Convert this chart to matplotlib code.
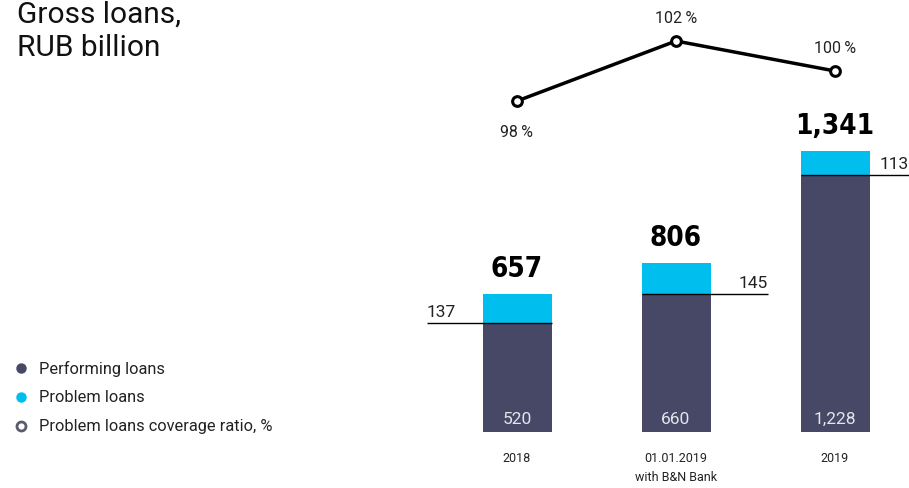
import matplotlib.pyplot as plt

categories = ['2018', '01.01.2019\nwith B&N Bank', '2019']
performing = [520, 660, 1228]
problem = [137, 145, 113]
coverage = [98, 102, 100]

total_labels = ['657', '806', '1,341']
perf_labels = ['520', '660', '1,228']
cov_labels = ['98\u2009%', '102\u2009%', '100\u2009%']

PERF_COLOR = '#464866'
PROB_COLOR = '#00BEEE'
FONT = ['Roboto', 'DejaVu Sans']

W, H = 909, 489
fig = plt.figure(figsize=(W / 100, H / 100), dpi=100)
ax = fig.add_axes([0, 0, 1, 1])

# x: bar 0 centre at px 517, 159 px per category
x0, step = 517, 159
ax.set_xlim(-x0 / step, (W - x0) / step)
# y: zero at px 433, 0.2095 px per unit
base, scale = 433, 0.2095
ax.set_ylim(-(H - base) / scale, base / scale)
ax.axis('off')

x = list(range(len(categories)))
width = 69 / step
ax.bar(x, performing, width=width, color=PERF_COLOR)
ax.bar(x, problem, bottom=performing, width=width, color=PROB_COLOR)

for i in x:
    top = performing[i] + problem[i]
    ax.annotate(total_labels[i], (i, top), xytext=(0, 9), textcoords='offset points',
                ha='center', va='bottom', fontsize=20, fontweight='bold',
                family='DejaVu Sans', fontstretch='condensed', color='black')
    ax.annotate(perf_labels[i], (i, 0), xytext=(0, 10), textcoords='offset points',
                ha='center', va='center', fontsize=12.5, color='#e4e4ec', family=FONT)
    ax.annotate(categories[i], (i, 0), xytext=(0, -14), textcoords='offset points',
                ha='center', va='top', fontsize=9, color='#222222', family=FONT,
                linespacing=1.55)

# problem loan callouts
line_spans = [(-0.566, width / 2), (-width / 2, 0.579), (-width / 2, 0.6)]
text_pos = [(-0.566, 'left'), (0.579, 'right'), (0.283, 'left')]
for i in x:
    y = performing[i]
    a, b = line_spans[i]
    ax.plot([i + a, i + b], [y, y], color='black', lw=1, solid_capstyle='butt')
    tx, ha = text_pos[i]
    ax.annotate(str(problem[i]), (i + tx, y), xytext=(0, 3), textcoords='offset points',
                ha=ha, va='bottom', fontsize=12.5, color='#222222', family=FONT)

# coverage ratio line on its own scale: 98 at px 102, 15 px per %
ax2 = ax.twinx()
ax2.set_ylim(98 - (H - 102) / 15, 98 + 102 / 15)
ax2.axis('off')
ax2.plot(x, coverage, color='black', lw=2.5, marker='o', markersize=7,
         markerfacecolor='white', markeredgecolor='black', markeredgewidth=2.2)
cov_offsets = [-22, 17, 17]
for i in x:
    ax2.annotate(cov_labels[i], (i, coverage[i]), xytext=(0, cov_offsets[i]),
                 textcoords='offset points', ha='center', va='center',
                 fontsize=11.5, color='#222222', family=FONT)

# title
fig.text(17 / W, 1 - 1 / H, 'Gross loans,\nRUB billion', ha='left', va='top',
         fontsize=21.5, color='#111111', family=FONT, linespacing=1.25)

# legend
leg_items = [('Performing loans', PERF_COLOR, PERF_COLOR),
             ('Problem loans', PROB_COLOR, PROB_COLOR),
             ('Problem loans coverage ratio, %', 'white', '#5a5a6e')]
for k, (label, fc, ec) in enumerate(leg_items):
    yy = 1 - (369 + 29 * k) / H
    fig.lines.append(plt.Line2D([21 / W], [yy], marker='o', markersize=6.5,
                                markerfacecolor=fc, markeredgecolor=ec,
                                markeredgewidth=2 if fc == 'white' else 1,
                                transform=fig.transFigure, linestyle='none'))
    fig.text(39 / W, yy, label, ha='left', va='center', fontsize=11.8,
             color='#222222', family=FONT)

fig.savefig('out.png', dpi=100)
